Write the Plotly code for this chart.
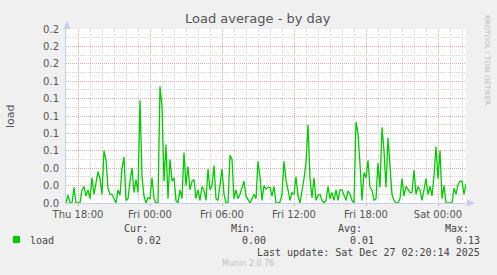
import plotly.graph_objects as go
import pandas as pd

# ---- data (load, units of 0.01, sampled every 10 minutes from Thu 17:00) ----
load_hundredths = [
    0, 0.9, 0, 0, 1.8, 0, 0, 0, 1.5, 1.9,
    0.8, 1.5, 0.5, 2.9, 1.0, 2.5, 3.6, 2.8, 1.0, 6.0,
    5.0, 1.7, 1.0, 1.0, 0.5, 0, 1.5, 0.9, 4.0, 5.3,
    0.3, 0.5, 2.5, 4.0, 1.2, 2.7, 1.2, 11.8, 3.0, 0.8,
    0, 0.6, 0.5, 2.9, 0.5, 0, 0, 13.4, 11.0, 2.5,
    6.7, 0.5, 5.0, 2.5, 2.9, 0.3, 0, 1.5, 0.5, 5.8,
    2.0, 4.2, 1.5, 2.5, 2.7, 0.5, 1.5, 0.3, 1.9, 1.5,
    0.3, 3.9, 1.5, 2.0, 4.3, 0.5, 0.3, 2.5, 3.9, 1.0,
    0, 0, 5.5, 5.0, 0.5, 1.5, 0.5, 1.0, 1.9, 2.5,
    0.8, 0.3, 0, 0.5, 1.0, 0.5, 4.8, 3.0, 0.3, 2.0,
    1.6, 1.8, 1.8, 0.8, 1.9, 0, 0, 0.1, 1.0, 4.8,
    2.6, 1.5, 0.3, 1.2, 1.0, 3.0, 0.8, 0, 1.2, 2.8,
    4.6, 9.0, 2.8, 0.6, 2.9, 0.3, 0.9, 1.0, 0.3, 0,
    0.3, 1.9, 0.5, 1.2, 0.3, 1.5, 0.3, 1.5, 1.5, 0.8,
    0.3, 1.4, 1.0, 0.3, 0, 9.3, 8.0, 4.5, 0.3, 3.5,
    2.9, 4.9, 1.8, 1.5, 0.3, 0.5, 4.6, 1.8, 8.7, 6.0,
    1.8, 7.5, 4.0, 1.0, 0.3, 0, 0, 0.5, 2.8, 0.8,
    1.9, 1.5, 1.2, 1.2, 3.8, 1.0, 1.9, 1.5, 0.3, 1.5,
    2.8, 1.0, 1.9, 0.8, 3.1, 6.5, 2.8, 6.0, 0.5, 2.0,
    0, 0, 0, 0, 1.7, 1.0, 2.1, 2.5, 2.5, 1.0,
    2.2,
]
start_time = "2025-12-25 17:00"
end_time = "2025-12-27 02:20"
y_ticks = [0, 0.02, 0.04, 0.06, 0.08, 0.10, 0.12, 0.14, 0.16, 0.18, 0.20]
y_tick_text = ["0.0", "0.0", "0.0", "0.1", "0.1", "0.1", "0.1", "0.1", "0.2", "0.2", "0.2"]
stats_labels = ["Cur:", "Min:", "Avg:", "Max:"]
stats_values = ["0.02", "0.00", "0.01", "0.13"]

times = pd.date_range(start_time, periods=len(load_hundredths), freq="10min")
load = [v * 0.01 for v in load_hundredths]

W, H = 497, 275
L, R, T, B = 66, 31, 29, 72
PW, PH = W - L - R, H - T - B

def px(x):
    return (x - L) / PW

def py(y):
    return (H - B - y) / PH

fig = go.Figure()
fig.add_trace(go.Scatter(
    x=times, y=load, mode="lines",
    line=dict(color="#00CC00", width=1.3),
    hoverinfo="skip", showlegend=False,
))

axis_line = "#C8CDF0"
major_grid = "#E4A8A8"
minor_grid = "#D2D2D2"
dash = "1px,1px"

fig.update_layout(
    width=W, height=H,
    margin=dict(l=L, r=R, t=T, b=B, pad=0),
    paper_bgcolor="#F0F0F0",
    plot_bgcolor="#FFFFFF",
    font=dict(family="DejaVu Sans", size=10, color="#555555"),
    xaxis=dict(
        type="date",
        range=[start_time, end_time],
        dtick=6 * 3600 * 1000,
        tick0="2025-12-25 00:00",
        tickformat="%a %H:%M",
        showgrid=True, gridcolor=major_grid, griddash=dash, gridwidth=1,
        minor=dict(dtick=3600 * 1000, showgrid=True, gridcolor=minor_grid,
                   griddash=dash, gridwidth=1),
        showline=True, linecolor=axis_line, linewidth=1,
        ticks="outside", ticklen=2, tickcolor=major_grid,
        tickfont=dict(size=10, color="#555555"),
        zeroline=False, fixedrange=True,
    ),
    yaxis=dict(
        range=[0, 0.2],
        tickvals=y_ticks, ticktext=y_tick_text,
        showgrid=True, gridcolor=major_grid, griddash=dash, gridwidth=1,
        minor=dict(dtick=0.01, tick0=0, showgrid=True, gridcolor=minor_grid,
                   griddash=dash, gridwidth=1),
        showline=True, linecolor=axis_line, linewidth=1,
        ticks="", ticklabelstandoff=4,
        tickfont=dict(size=10, color="#555555"),
        zeroline=False, fixedrange=True,
    ),
)

ann = []
# title
ann.append(dict(x=px(258), y=py(19), text="Load average - by day", showarrow=False,
                xref="paper", yref="paper", xanchor="center", yanchor="middle",
                font=dict(family="DejaVu Sans", size=13, color="#555555")))
# y label
ann.append(dict(x=px(10), y=py(116), text="load", showarrow=False, textangle=-90,
                xref="paper", yref="paper", xanchor="center", yanchor="middle",
                font=dict(family="DejaVu Sans", size=11, color="#555555")))
# rrdtool credit
ann.append(dict(x=px(487), y=py(60), text="RRDTOOL / TOBI OETIKER", showarrow=False,
                textangle=90, xref="paper", yref="paper", xanchor="center", yanchor="middle",
                font=dict(family="DejaVu Sans", size=7, color="#BBBBBB")))
mono = "DejaVu Sans Mono"
ann.append(dict(x=px(28), y=py(240), text="load", showarrow=False,
                xref="paper", yref="paper", xanchor="left", yanchor="middle",
                font=dict(family=mono, size=10, color="#444444")))
label_right = [150, 257, 364, 471]
value_right = [163, 268, 376, 482]
for lab, val, lx, vx in zip(stats_labels, stats_values, label_right, value_right):
    ann.append(dict(x=px(lx), y=py(228), text=lab, showarrow=False,
                    xref="paper", yref="paper", xanchor="right", yanchor="middle",
                    font=dict(family=mono, size=10, color="#444444")))
    ann.append(dict(x=px(vx), y=py(240), text=val, showarrow=False,
                    xref="paper", yref="paper", xanchor="right", yanchor="middle",
                    font=dict(family=mono, size=10, color="#444444")))
ann.append(dict(x=px(482), y=py(252), text="Last update: Sat Dec 27 02:20:14 2025",
                showarrow=False, xref="paper", yref="paper", xanchor="right", yanchor="middle",
                font=dict(family=mono, size=10, color="#444444")))
ann.append(dict(x=px(248), y=py(263), text="Munin 2.0.76", showarrow=False,
                xref="paper", yref="paper", xanchor="center", yanchor="middle",
                font=dict(family="DejaVu Sans", size=8, color="#C0C0C0")))
fig.update_layout(annotations=ann)

shapes = []
# legend colour square
shapes.append(dict(type="rect", xref="paper", yref="paper",
                   x0=px(13), x1=px(20), y0=py(243), y1=py(236),
                   fillcolor="#00CC00", line=dict(width=0)))
# axis arrows
def tri(points):
    path = "M " + " L ".join(f"{px(a)},{py(b)}" for a, b in points) + " Z"
    return dict(type="path", xref="paper", yref="paper", path=path,
                fillcolor=axis_line, line=dict(width=0))
shapes.append(tri([(63.5, 29), (70.5, 29), (67, 21)]))
shapes.append(tri([(467, 199.5), (467, 206.5), (475, 203)]))
fig.update_layout(shapes=shapes)

fig.write_html("out.html")
